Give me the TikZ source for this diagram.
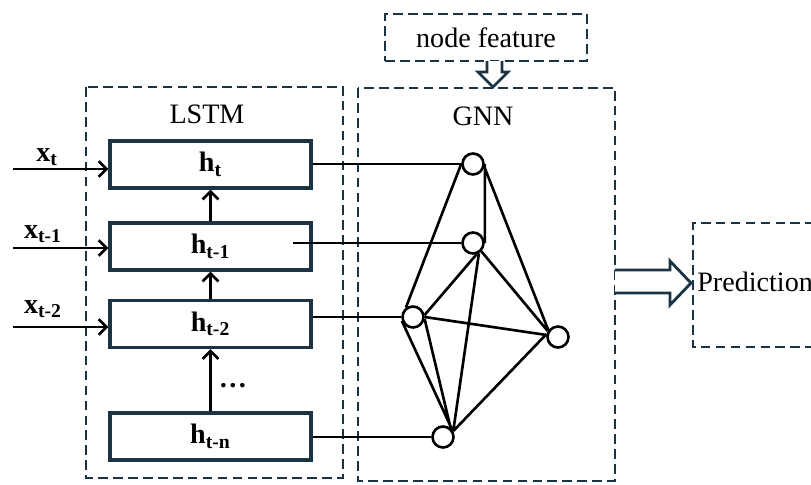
\documentclass[tikz,border=0pt]{standalone}
\usepackage{fontspec}
\setmainfont{Liberation Serif}
\usetikzlibrary{arrows.meta}
\definecolor{navy}{HTML}{1B3445}

\begin{document}
\begin{tikzpicture}[x=0.02cm,y=-0.02cm,
    font=\fontsize{16}{19}\selectfont,
    frame/.style={draw=navy,line width=1.6pt,dash pattern=on 5.5pt off 3pt},
    cell/.style={draw=navy,line width=1.8pt,minimum width=4.02cm,
      minimum height=0.94cm,inner sep=0pt,font=\fontsize{16}{19}\selectfont\bfseries},
    vert/.style={circle,draw=black,line width=1.5pt,minimum size=0.42cm,
      inner sep=0pt,fill=white},
    link/.style={black,line width=1.5pt},
    feed/.style={-{Straight Barb[length=4.5pt,width=9pt]},line width=1.5pt},
    hollow/.style={draw=navy,line width=1.6pt,fill=white}]
	   \clip (0,0) rectangle (811,484);
	   % dashed frames
	   \draw [frame] (86,87) rectangle (343,478);
	   \draw [frame] (358,88) rectangle (615,481);
	   \draw [frame] (830,223) -- (693,223) -- (693,347) -- (830,347);
	   \node (feat) at (486,37.5) [frame,minimum width=4.04cm,minimum height=0.94cm] {node feature};
	   \node (lstm) at (207,114) {LSTM};
	   \node (gnn) at (483,116) {GNN};
	   \node (pred) at (697,282) [anchor=west,inner sep=0pt] {Prediction};
	   % hollow arrows
	   \draw [hollow] (487,61) -- (487,72) -- (478,72) -- (493,87)
	     -- (508,72) -- (502,72) -- (502,61);
	   \draw [hollow] (615,270) -- (670,270) -- (670,261) -- (691,283)
	     -- (670,305) -- (670,293) -- (615,293);
	   % LSTM cells
	   \node (h0) at (210.5,164.5) [cell] {h\textsubscript{t}};
	   \node (h1) at (210.5,246.5) [cell] {h\textsubscript{t-1}};
	   \node (h2) at (210.5,324) [cell] {h\textsubscript{t-2}};
	   \node (h3) at (210.5,436.5) [cell] {h\textsubscript{t-n}};
	   \node (dots) at (233,386) {\textbf{…}};
	   \draw [feed] (h1.north) -- (h0.south);
	   \draw [feed] (h2.north) -- (h1.south);
	   \draw [feed] (h3.north) -- (h2.south);
	   % inputs
	   \node (x0) at (47,157) {\textbf{x\textsubscript{t}}};
	   \node (x1) at (43,234) {\textbf{x\textsubscript{t-1}}};
	   \node (x2) at (43,309) {\textbf{x\textsubscript{t-2}}};
	   \coordinate (in0) at (13,169);
	   \coordinate (in1) at (13,248);
	   \coordinate (in2) at (13,327);
	   \foreach \x in {0,1,2} {
	     \draw [feed] (in\x) -- (in\x -| h\x.west);
	   }
	   % graph
	   \node (g1) at (473,164) [vert] {};
	   \node (g2) at (473,243) [vert] {};
	   \node (g3) at (413,317) [vert] {};
	   \node (g4) at (443,437) [vert] {};
	   \node (g5) at (558,337) [vert] {};
	   \coordinate (o1) at (293,243);
	   \draw [link]
	     (g1.west -| h0.east) -- (g1.west)
	     (o1) -- (g2.west)
	     (g3.west -| h2.east) -- (g3.west)
	     (g4.west -| h3.east) -- (g4.west);
	   \draw [link]
	     (g1.east) -- (g2.east)
	     (g1.180) -- (g3.127)
	     (g1.-15) -- (g5.145)
	     (g2.-72) -- (g3.10)
	     (g2.-60) -- (g4.30)
	     (g2.-45) -- (g5.150)
	     (g3.0) -- (g5.170)
	     (g3.200) -- (g4.40)
	     (g3.-10) -- (g4.50)
	     (g4.30) -- (g5.165);
	  \end{tikzpicture}
\end{document}
